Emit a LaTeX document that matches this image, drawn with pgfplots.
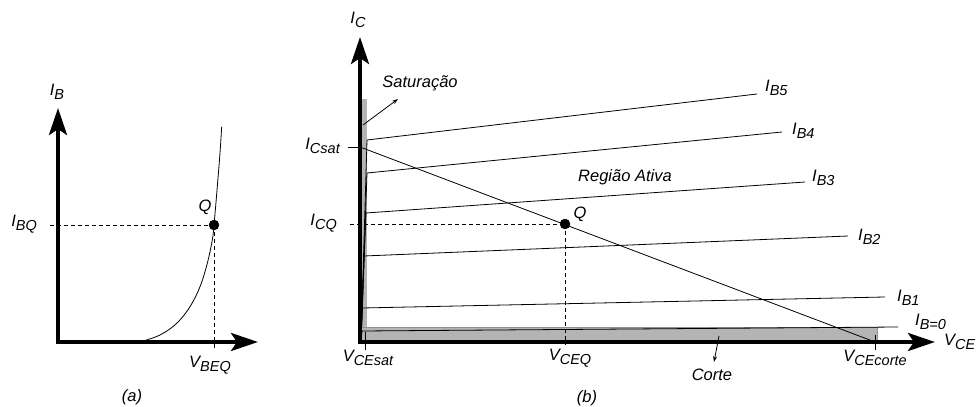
\documentclass[border=0pt]{standalone}
\usepackage{fontspec}
\setmainfont{Liberation Sans}
\usepackage{pgfplots}
\pgfplotsset{compat=1.18}
\usetikzlibrary{arrows.meta}
\definecolor{regiongray}{RGB}{180,180,180}
\newcommand{\lbl}[2]{#1\raisebox{-0.4ex}{\fontsize{14.5bp}{14.5bp}\selectfont #2}}
\tikzset{
  txt/.style={font=\fontsize{16.5bp}{19bp}\selectfont\itshape, inner sep=0pt},
  thinl/.style={black, line width=0.8bp},
  dashl/.style={black, line width=0.8bp, dash pattern=on 4bp off 3bp},
}
\pgfplotsset{
  diag/.style={
    axis lines*=left, x=1bp, y=1bp, anchor=south west,
    xmin=0, ymin=0, clip=false, axis on top,
    xtick=\empty, ytick=\empty,
    axis line style={line width=4bp, line cap=rect},
    x axis line style={-{Stealth[length=27bp,width=18bp,inset=6bp]}},
    y axis line style={-{Stealth[length=27bp,width=18bp,inset=6bp]}},
  },
}
\begin{document}
\begin{tikzpicture}
\path[use as bounding box] (0,0) rectangle (979bp,407bp);
% ---------------- (a) ----------------
\begin{axis}[diag, at={(58bp,65bp)}, xmax=200, ymax=234]
\addplot[thinl, no marks, smooth, tension=0.6] coordinates {(82,0) (102,7) (118.7,18.7) (132,35.3) (142,55.3) (149.3,78.7) (154.3,102) (156,117) (159.3,155.3) (162,189) (163.7,215.3)};
\addplot[dashl, no marks] coordinates {(-8,117) (156,117)};
\addplot[dashl, no marks] coordinates {(156,117) (156,-6)};
\addplot[only marks, mark=*, mark size=5bp, black] coordinates {(156,117)};
\node[txt] at (axis cs:-1,250) {\lbl{I}{B}};
\node[txt, anchor=east] at (axis cs:-21,118) {\lbl{I}{BQ}};
\node[txt] at (axis cs:147,135) {Q};
\node[txt] at (axis cs:152,-23) {\lbl{V}{BEQ}};
\node[txt] at (axis cs:74,-55) {(a)};
\end{axis}
% ---------------- (b) ----------------
\begin{axis}[diag, at={(360bp,65bp)}, xmax=575, ymax=305]
\addplot[fill=regiongray, draw=none] coordinates {(0,0) (7,0) (7,243) (0,243)} -- cycle;
\addplot[fill=regiongray, draw=regiongray!80!black, line width=0.4bp] coordinates {(0,0) (517,0) (517,15) (0,15)} -- cycle;
\addplot[thinl, no marks] coordinates {(1,0) (7,202) (397,248)};
\addplot[thinl, no marks] coordinates {(1,0) (7,169) (422,210)};
\addplot[thinl, no marks] coordinates {(1,0) (6,129) (445,160)};
\addplot[thinl, no marks] coordinates {(1,0) (4,86) (488,106)};
\addplot[thinl, no marks] coordinates {(1,0) (2,34) (525,45)};
\addplot[thinl, no marks] coordinates {(1,0) (2,11) (538,15)};
\addplot[thinl, no marks] coordinates {(0,195) (515,0)};
\addplot[thinl, no marks] coordinates {(-12,195) (0,195)};
\addplot[thinl, no marks] coordinates {(5,10) (5,-8)};
\addplot[thinl, no marks] coordinates {(515,7) (515,-8)};
\addplot[dashl, no marks] coordinates {(-10,118) (205,118)};
\addplot[dashl, no marks] coordinates {(205,118) (205,-3)};
\addplot[only marks, mark=*, mark size=5bp, black] coordinates {(205,118)};
\addplot[thinl, no marks, -{Stealth[length=6bp,width=4bp]}] coordinates {(3,217) (38,243)};
\addplot[thinl, no marks, -{Stealth[length=6bp,width=4bp]}] coordinates {(359,6) (354,-20)};
\node[txt] at (axis cs:-2,322) {\lbl{I}{C}};
\node[txt] at (axis cs:60,259) {Saturação};
\node[txt, anchor=east] at (axis cs:-20,196) {\lbl{I}{Csat}};
\node[txt, anchor=east] at (axis cs:-23,119) {\lbl{I}{CQ}};
\node[txt] at (axis cs:265,165) {Região Ativa};
\node[txt] at (axis cs:220,128) {Q};
\node[txt, anchor=west] at (axis cs:405,254) {\lbl{I}{B5}};
\node[txt, anchor=west] at (axis cs:432,211) {\lbl{I}{B4}};
\node[txt, anchor=west] at (axis cs:452,164) {\lbl{I}{B3}};
\node[txt, anchor=west] at (axis cs:498,105) {\lbl{I}{B2}};
\node[txt, anchor=west] at (axis cs:537,44) {\lbl{I}{B1}};
\node[txt, anchor=west] at (axis cs:555,20) {\lbl{I}{B=0}};
\node[txt, anchor=west] at (axis cs:584,0) {\lbl{V}{CE}};
\node[txt] at (axis cs:8,-16) {\lbl{V}{CEsat}};
\node[txt] at (axis cs:210,-16) {\lbl{V}{CEQ}};
\node[txt] at (axis cs:515,-16) {\lbl{V}{CEcorte}};
\node[txt] at (axis cs:352,-33) {Corte};
\node[txt] at (axis cs:227,-56) {(b)};
\end{axis}
\end{tikzpicture}
\end{document}
